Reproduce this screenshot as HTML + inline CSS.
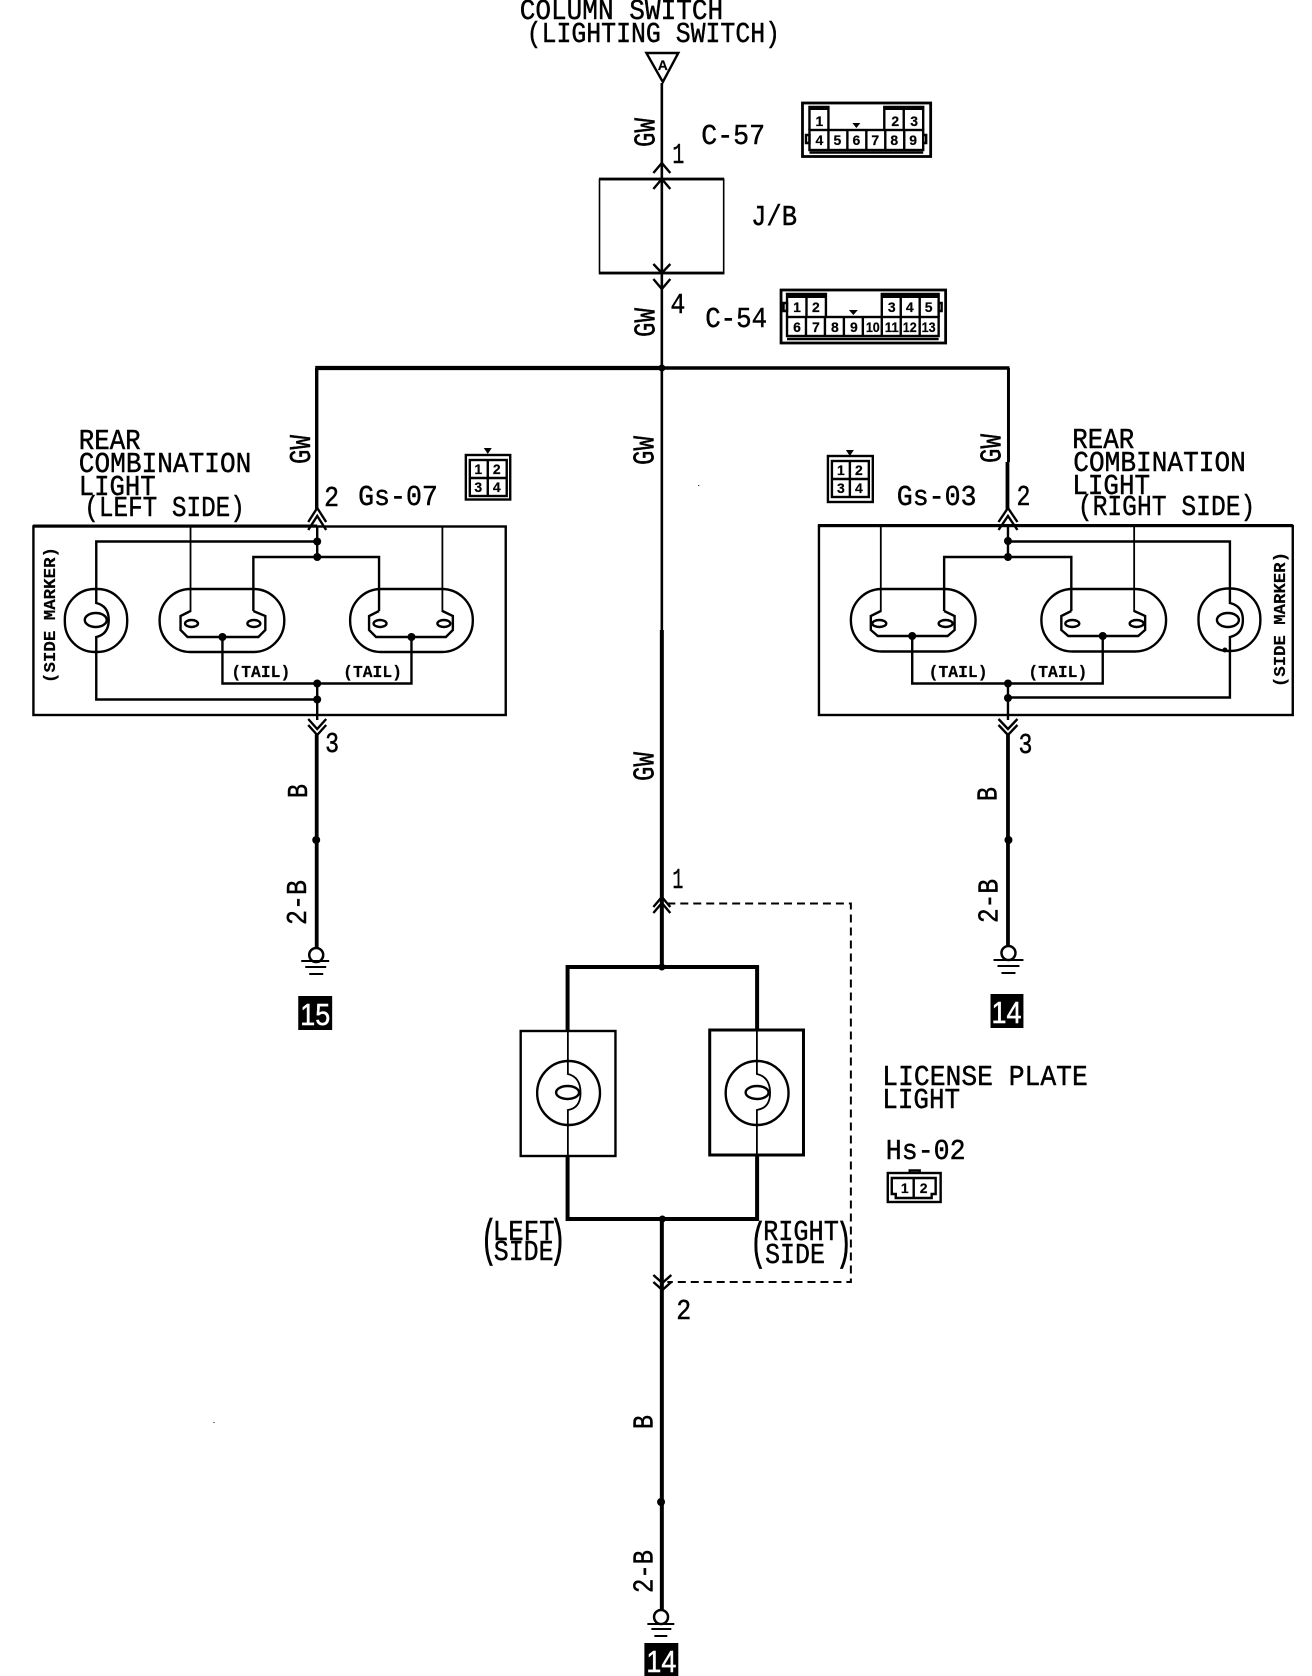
<!DOCTYPE html>
<html><head><meta charset="utf-8"><style>
html,body{margin:0;padding:0;background:#fff}
svg{display:block}
text{fill:#000;stroke:#000;stroke-width:.45px;font-family:"Liberation Mono",monospace;font-size:29px}
.n{font-family:"Liberation Sans",sans-serif;font-weight:bold;font-size:14px;text-anchor:middle;stroke-width:.2px}
.b{font-family:"Liberation Mono",monospace;font-weight:bold;font-size:17px;stroke-width:.2px}
.w{fill:#fff;stroke:#fff;font-family:"Liberation Sans",sans-serif;font-size:31px}
.l{fill:none;stroke:#000;stroke-width:2.4}
.th{fill:none;stroke:#000;stroke-width:1.8}
.k{fill:none;stroke:#000;stroke-width:4}
</style></head><body>
<svg xmlns="http://www.w3.org/2000/svg" width="1312" height="1676" viewBox="0 0 1312 1676">
<rect width="1312" height="1676" fill="#fff"/>
<g transform="scale(.9975,1)">

<!-- top labels -->
<text x="521" y="19" textLength="204" lengthAdjust="spacingAndGlyphs">COLUMN SWITCH</text>
<text x="528" y="42" textLength="254" lengthAdjust="spacingAndGlyphs">(LIGHTING SWITCH)</text>
<path class="l" d="M648 53H680L664.5 82Z"/>
<text class="n" x="664.5" y="70" style="font-size:14px">A</text>

<!-- centre wire -->
<path d="M663.5 83V630" stroke="#000" stroke-width="2.6" fill="none"/>
<path d="M663.5 630V967" stroke="#000" stroke-width="4" fill="none"/>
<path d="M663.5 1219V1610" stroke="#000" stroke-width="4" fill="none"/>
<!-- J/B -->
<rect x="601" y="179.5" width="124.5" height="94" fill="none" stroke="#000" stroke-width="1.6"/>
<path d="M600.5 179H726M600.5 273H726" stroke="#000" stroke-width="2.8"/>
<path class="l" d="M655 173L663.5 163L672 173M655 189L663.5 179L672 189M655 264L663.5 273L672 264M655 279L663.5 289L672 279"/>
<text x="753" y="225" textLength="46" lengthAdjust="spacingAndGlyphs">J/B</text>
<text transform="translate(656,147) rotate(-90)" textLength="29" lengthAdjust="spacingAndGlyphs" style="font-size:31px">GW</text>
<text transform="translate(656,337) rotate(-90)" textLength="29" lengthAdjust="spacingAndGlyphs" style="font-size:31px">GW</text>
<text transform="translate(655,465) rotate(-90)" textLength="29" lengthAdjust="spacingAndGlyphs" style="font-size:31px">GW</text>
<text transform="translate(655,781) rotate(-90)" textLength="29" lengthAdjust="spacingAndGlyphs" style="font-size:31px">GW</text>
<text x="674" y="163" textLength="12" lengthAdjust="spacingAndGlyphs">1</text>
<text x="672" y="313" textLength="15" lengthAdjust="spacingAndGlyphs">4</text>
<text x="703" y="144" textLength="64" lengthAdjust="spacingAndGlyphs">C-57</text>
<text x="707" y="327" textLength="62" lengthAdjust="spacingAndGlyphs">C-54</text>

<!-- C-57 connector -->
<g transform="translate(1.5,0)">
<rect x="803" y="103" width="128.5" height="53.5" fill="none" stroke="#000" stroke-width="2.8"/>
<path class="l" d="M810 130V107H829V130M885 130V107H924V130M904.5 107V130"/>
<rect class="l" x="810" y="130" width="114" height="20"/>
<path class="l" d="M829 130V150M848 130V150M867 130V150M886 130V150M905 130V150"/>
<path class="l" d="M810 152.5H924M806.5 135H810V143H806.5ZM924 135H927V143H924Z"/>
<path d="M810 107H829V110H810ZM885 107H924V110H885Z"/>
<path d="M853 123H861L857 128Z"/>
<text class="n" x="820" y="126">1</text><text class="n" x="896" y="126">2</text><text class="n" x="915" y="126">3</text>
<text class="n" x="820" y="145">4</text><text class="n" x="838" y="145">5</text><text class="n" x="857" y="145">6</text><text class="n" x="876" y="145">7</text><text class="n" x="895" y="145">8</text><text class="n" x="914" y="145">9</text>
</g>

<!-- C-54 connector -->
<g transform="translate(2,0)">
<rect x="781" y="290" width="165" height="53" fill="none" stroke="#000" stroke-width="2.8"/>
<path class="l" d="M787 317V294H826V317M806.5 297V317M882 317V294H939V317M901 297V317M920 297V317"/>
<rect class="l" x="787" y="317" width="152" height="19"/>
<path class="l" d="M806 317V336M825 317V336M844 317V336M863 317V336M882 317V336M901 317V336M920 317V336"/>
<path class="l" d="M787 339H939M783.5 303H787V311H783.5ZM939 303H942V311H939Z"/>
<path d="M787 294H826V298H787ZM882 294H939V298H882Z"/>
<path d="M849 310H858L853.5 315Z"/>
<text class="n" x="797" y="312">1</text><text class="n" x="816" y="312">2</text><text class="n" x="892" y="312">3</text><text class="n" x="910" y="312">4</text><text class="n" x="929" y="312">5</text>
<text class="n" x="797" y="332">6</text><text class="n" x="816" y="332">7</text><text class="n" x="835" y="332">8</text><text class="n" x="854" y="332">9</text>
<text class="n" x="873" y="332" textLength="14" lengthAdjust="spacingAndGlyphs">10</text><text class="n" x="892" y="332" textLength="14" lengthAdjust="spacingAndGlyphs">11</text><text class="n" x="910" y="332" textLength="14" lengthAdjust="spacingAndGlyphs">12</text><text class="n" x="929" y="332" textLength="14" lengthAdjust="spacingAndGlyphs">13</text>
</g>

<!-- bus -->
<path d="M316 368H664" stroke="#000" stroke-width="4.2"/>
<path d="M664 368H1012" stroke="#000" stroke-width="3.4"/>
<circle cx="663.5" cy="368" r="3.5"/>
<path d="M317.5 368V510" stroke="#000" stroke-width="3.4" fill="none"/>
<path d="M1011 368V462" stroke="#000" stroke-width="3" fill="none"/>
<path d="M1010 462V510" stroke="#000" stroke-width="3.8" fill="none"/>

<!-- LEFT -->
<text x="79" y="449" textLength="62" lengthAdjust="spacingAndGlyphs">REAR</text>
<text x="79" y="472" textLength="173" lengthAdjust="spacingAndGlyphs">COMBINATION</text>
<text x="79" y="495" textLength="77" lengthAdjust="spacingAndGlyphs">LIGHT</text>
<text x="84.5" y="516" textLength="161" lengthAdjust="spacingAndGlyphs">(LEFT SIDE)</text>
<text transform="translate(311,464) rotate(-90)" textLength="29" lengthAdjust="spacingAndGlyphs" style="font-size:31px">GW</text>
<text x="325" y="506" textLength="15" lengthAdjust="spacingAndGlyphs">2</text>
<text x="359" y="505" textLength="80" lengthAdjust="spacingAndGlyphs">Gs-07</text>
<rect x="467" y="455" width="44.5" height="44.5" fill="none" stroke="#000" stroke-width="2.4"/>
<rect x="471" y="460" width="37" height="36" fill="none" stroke="#000" stroke-width="2.4"/>
<path class="l" d="M489 460V496M471 478H508"/>
<path d="M485 448H493L489 454Z"/>
<text class="n" x="479.5" y="474">1</text><text class="n" x="498" y="474">2</text><text class="n" x="479.5" y="492">3</text><text class="n" x="498" y="492">4</text>

<rect x="33.5" y="526.5" width="473.5" height="188.5" fill="none" stroke="#000" stroke-width="2.4"/>
<path d="M33 526H318" stroke="#000" stroke-width="3"/>
<path class="l" d="M318 526V557M318 683.5V720"/>
<path class="l" d="M309 522L318 508L327 522M309 530L318 516L327 530"/>
<path class="l" d="M309 719L318 729L327 719M309 725L318 735L327 725"/>
<path d="M317.5 733V948" stroke="#000" stroke-width="3.8" fill="none"/>
<path class="l" d="M318 541.5H96.5V603Q109 606 109 620Q109 634 96.5 637V699.5H318"/>
<rect class="l" x="65" y="589" width="62.5" height="63" rx="30" ry="30"/>
<ellipse class="l" cx="96" cy="620" rx="11" ry="7"/>
<path class="l" d="M254 611V557H380V611M223 637V683.5H412.5V637"/>
<path class="th" d="M191 526V612M443.5 526V612"/>
<rect class="l" x="160" y="589" width="125" height="63" rx="31" ry="31"/>
<rect class="l" x="351" y="589" width="123" height="63" rx="31" ry="31"/>
<path class="l" d="M191 611L181 616V630L188 637H259L266 630V616L254 611M380 611L370 616V630L377 637H447L454 630V616L443.5 611"/>
<ellipse class="l" cx="192" cy="623.5" rx="6.5" ry="3.5"/><ellipse class="l" cx="254.5" cy="623.5" rx="6.5" ry="3.5"/>
<ellipse class="l" cx="381" cy="623.5" rx="6.5" ry="3.5"/><ellipse class="l" cx="445" cy="623.5" rx="6.5" ry="3.5"/>
<circle cx="318" cy="541.5" r="4"/><circle cx="318" cy="557" r="4"/><circle cx="223" cy="637" r="4"/><circle cx="412.5" cy="637" r="4"/><circle cx="318" cy="683.5" r="4"/><circle cx="318" cy="699.5" r="4"/>
<text class="b" x="232" y="677" textLength="59" lengthAdjust="spacingAndGlyphs">(TAIL)</text>
<text class="b" x="344" y="677" textLength="59" lengthAdjust="spacingAndGlyphs">(TAIL)</text>
<text class="b" transform="translate(55,683) rotate(-90)" textLength="136" lengthAdjust="spacingAndGlyphs">(SIDE MARKER)</text>
<text x="326" y="752" textLength="14" lengthAdjust="spacingAndGlyphs">3</text>
<text transform="translate(308,798) rotate(-90)" textLength="14" lengthAdjust="spacingAndGlyphs">B</text>
<circle cx="317" cy="840" r="4"/>
<text transform="translate(307,925) rotate(-90)" textLength="45" lengthAdjust="spacingAndGlyphs">2-B</text>
<circle cx="317" cy="955" r="7" fill="#fff" stroke="#000" stroke-width="2.5"/>
<path d="M302 961H330M306 967H327M310 974H324" stroke="#000" stroke-width="2"/>
<rect x="299" y="996" width="34" height="34"/>
<text class="w" x="301" y="1025" textLength="30" lengthAdjust="spacingAndGlyphs">15</text>

<!-- RIGHT -->
<text x="1075" y="448" textLength="62" lengthAdjust="spacingAndGlyphs">REAR</text>
<text x="1076" y="471" textLength="173" lengthAdjust="spacingAndGlyphs">COMBINATION</text>
<text x="1075" y="494" textLength="78" lengthAdjust="spacingAndGlyphs">LIGHT</text>
<text x="1080.5" y="515" textLength="178" lengthAdjust="spacingAndGlyphs">(RIGHT SIDE)</text>
<text transform="translate(1003,463) rotate(-90)" textLength="29" lengthAdjust="spacingAndGlyphs" style="font-size:31px">GW</text>
<text x="1019" y="505" textLength="14" lengthAdjust="spacingAndGlyphs">2</text>
<text x="899" y="505" textLength="80" lengthAdjust="spacingAndGlyphs">Gs-03</text>
<rect x="830" y="456" width="45" height="46" fill="none" stroke="#000" stroke-width="2.4"/>
<rect x="834" y="461" width="37" height="36" fill="none" stroke="#000" stroke-width="2.4"/>
<path class="l" d="M852 461V497M834 479H871"/>
<path d="M848 450H856L852 456Z"/>
<text class="n" x="843" y="475">1</text><text class="n" x="861" y="475">2</text><text class="n" x="843" y="493">3</text><text class="n" x="861" y="493">4</text>

<rect x="821" y="526" width="475" height="189" fill="none" stroke="#000" stroke-width="2.4"/>
<path d="M820 525.5H1296" stroke="#000" stroke-width="3"/>
<path class="l" d="M1010.5 526V557M1010.5 683.5V720"/>
<path class="l" d="M1001 522L1010.5 508L1020 522M1001 530L1010.5 516L1020 530"/>
<path class="l" d="M1001 719L1010.5 729L1020 719M1001 725L1010.5 735L1020 725"/>
<path d="M1010.5 733V948" stroke="#000" stroke-width="3.8" fill="none"/>
<path class="l" d="M1010.5 541.5H1233V603Q1246 606 1246 620Q1246 634 1233 637V697.5H1010.5"/>
<rect class="l" x="1201.5" y="588.5" width="62" height="62.5" rx="30" ry="30"/>
<ellipse class="l" cx="1231" cy="620" rx="11" ry="7"/>
<path class="l" d="M946.5 611V557H1074V611M914.5 636V683.5H1105.5V636"/>
<path class="th" d="M883 526V612M1137 526V612"/>
<rect class="l" x="853" y="589" width="125" height="62.5" rx="31" ry="31"/>
<rect class="l" x="1044" y="589" width="125" height="62.5" rx="31" ry="31"/>
<path class="l" d="M883 611L873 616V630L880 636H950L957 630V616L946.5 611M1074 611L1064 616V630L1071 636H1141L1148 630V616L1137 611"/>
<ellipse class="l" cx="881.5" cy="623.5" rx="7" ry="3.5"/><ellipse class="l" cx="948" cy="623.5" rx="7" ry="3.5"/>
<ellipse class="l" cx="1075" cy="623.5" rx="7" ry="3.5"/><ellipse class="l" cx="1139.5" cy="623.5" rx="7" ry="3.5"/>
<circle cx="1010.5" cy="541" r="4"/><circle cx="1010.5" cy="557" r="4"/><circle cx="914.5" cy="636" r="4"/><circle cx="1105.5" cy="636" r="4"/><circle cx="1010.5" cy="683.5" r="4"/><circle cx="1010.5" cy="698" r="4"/><circle cx="1228" cy="650" r="2.5"/>
<text class="b" x="931" y="677" textLength="59" lengthAdjust="spacingAndGlyphs">(TAIL)</text>
<text class="b" x="1031" y="677" textLength="59" lengthAdjust="spacingAndGlyphs">(TAIL)</text>
<text class="b" transform="translate(1288,687) rotate(-90)" textLength="135" lengthAdjust="spacingAndGlyphs">(SIDE MARKER)</text>
<text x="1021" y="753" textLength="14" lengthAdjust="spacingAndGlyphs">3</text>
<text transform="translate(999,801) rotate(-90)" textLength="14" lengthAdjust="spacingAndGlyphs">B</text>
<circle cx="1011" cy="840" r="4"/>
<text transform="translate(1000,923) rotate(-90)" textLength="44" lengthAdjust="spacingAndGlyphs">2-B</text>
<circle cx="1011" cy="953" r="7" fill="#fff" stroke="#000" stroke-width="2.5"/>
<path d="M996 960H1026M1000 966H1022M1004 973H1018" stroke="#000" stroke-width="2"/>
<rect x="993" y="994" width="33" height="34"/>
<text class="w" x="994" y="1023" textLength="30" lengthAdjust="spacingAndGlyphs">14</text>

<!-- LICENSE PLATE -->
<text x="674" y="888" textLength="11" lengthAdjust="spacingAndGlyphs">1</text>
<path class="l" d="M655 907L663.5 897L672 907M655 913L663.5 903L672 913"/>
<path fill="none" stroke="#000" stroke-width="2" stroke-dasharray="8 5" d="M669 903.5H853V1282H669"/>
<path class="k" d="M569 1031V967H759V1031M569 1156V1219H759V1156"/>
<circle cx="663.5" cy="967" r="3.5"/><circle cx="664" cy="1219" r="3.5"/>
<rect x="522" y="1031" width="95" height="125" fill="none" stroke="#000" stroke-width="2.4"/>
<rect x="711.5" y="1030" width="94" height="125" fill="none" stroke="#000" stroke-width="3"/>
<ellipse class="l" cx="570" cy="1093" rx="31.5" ry="32"/>
<ellipse class="l" cx="759" cy="1093" rx="31.5" ry="32"/>
<path class="th" d="M569.3 1031V1074Q582 1077 582 1093Q582 1108 569.3 1110V1156M758.8 1030V1074Q772 1077 772 1093Q772 1108 758.8 1110V1155"/>
<ellipse class="l" cx="569" cy="1092.5" rx="11.5" ry="6.5"/>
<ellipse class="l" cx="759" cy="1092.5" rx="11.5" ry="6.5"/>
<text x="494" y="1240" textLength="62" lengthAdjust="spacingAndGlyphs">LEFT</text>
<text x="495" y="1260" textLength="60" lengthAdjust="spacingAndGlyphs">SIDE</text>
<text transform="translate(482,1255) scale(1,1.9)" style="font-size:27px">(</text>
<text transform="translate(551,1255) scale(1,1.9)" style="font-size:27px">)</text>
<text x="765" y="1240" textLength="76" lengthAdjust="spacingAndGlyphs">RIGHT</text>
<text x="767" y="1263" textLength="60" lengthAdjust="spacingAndGlyphs">SIDE</text>
<text transform="translate(752,1258) scale(1,1.9)" style="font-size:27px">(</text>
<text transform="translate(838,1258) scale(1,1.9)" style="font-size:27px">)</text>
<path class="l" d="M655 1275L664 1283L673 1275M655 1282L664 1290L673 1282"/>
<text x="678" y="1319" textLength="15" lengthAdjust="spacingAndGlyphs">2</text>
<text x="884.5" y="1085" textLength="206" lengthAdjust="spacingAndGlyphs">LICENSE PLATE</text>
<text x="884.5" y="1108" textLength="78" lengthAdjust="spacingAndGlyphs">LIGHT</text>
<text x="888" y="1159" textLength="80" lengthAdjust="spacingAndGlyphs">Hs-02</text>
<rect x="890" y="1173" width="53" height="29" fill="none" stroke="#000" stroke-width="2.4"/>
<path class="l" d="M912 1173V1170.5H922V1173M894 1178H938V1194H934V1198H898V1194H894ZM916 1178V1198"/>
<text class="n" x="907" y="1193">1</text><text class="n" x="926" y="1193">2</text>

<!-- bottom -->
<text transform="translate(654,1429) rotate(-90)" textLength="14" lengthAdjust="spacingAndGlyphs">B</text>
<circle cx="662.7" cy="1502" r="4"/>
<text transform="translate(654,1593) rotate(-90)" textLength="43" lengthAdjust="spacingAndGlyphs">2-B</text>
<circle cx="662.7" cy="1617" r="7" fill="#fff" stroke="#000" stroke-width="2.5"/>
<path d="M649 1624H676M653 1629H673M656 1636H669" stroke="#000" stroke-width="2"/>
<rect x="646" y="1643" width="34" height="33"/>
<text class="w" x="648" y="1672" textLength="30" lengthAdjust="spacingAndGlyphs">14</text>

<rect x="700" y="485" width="1" height="1"/>
<rect x="214" y="1422" width="1" height="1"/>
</g>
</svg>
</body></html>
